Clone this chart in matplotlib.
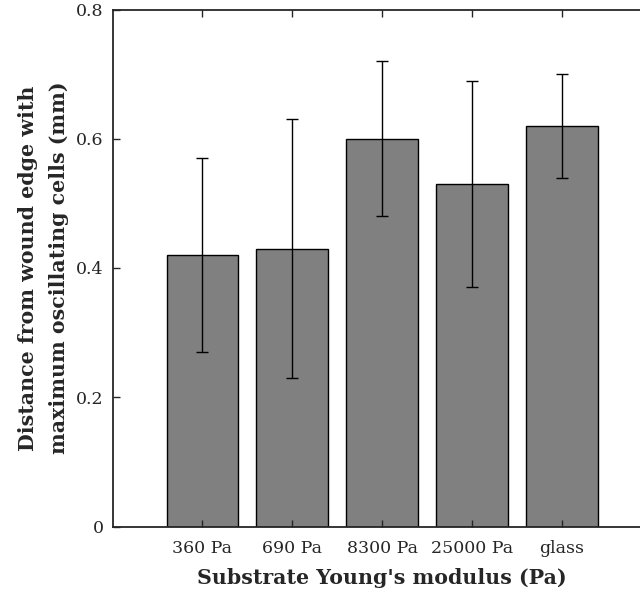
import numpy as np
import matplotlib
matplotlib.use("Agg")
import matplotlib.pyplot as plt

# data
categories = ['360 Pa', '690 Pa', '8300 Pa', '25000 Pa', 'glass']
distance = [0.42, 0.43, 0.60, 0.53, 0.62]
err = [0.15, 0.20, 0.12, 0.16, 0.08]
yticks = [0, 0.2, 0.4, 0.6, 0.8]
ytick_labels = ['0', '0.2', '0.4', '0.6', '0.8']

plt.rcParams['font.family'] = ['DejaVu Serif']

fig = plt.figure(figsize=(6.4, 5.96), dpi=100)
# axes run past the right edge (cropped like the original)
ax = fig.add_axes([112.7 / 640, 69.5 / 596, (651.5 - 112.7) / 640, 517 / 596])

x = np.arange(1, len(categories) + 1)
ax.bar(x, distance, width=0.8, color='#808080', edgecolor='black', linewidth=1.0)
ax.errorbar(x, distance, yerr=err, fmt='none', ecolor='black',
            elinewidth=1.0, capsize=4, capthick=1.0)

ax.set_xlim(0, 6)
ax.set_ylim(0, 0.8)
ax.set_xticks(x)
ax.set_xticklabels(categories, fontsize=12.5)
ax.set_yticks(yticks)
ax.set_yticklabels(ytick_labels, fontsize=12.5)
ax.tick_params(direction='in', top=True, right=True, length=5, width=1.0,
               colors='#262626', labelcolor='#262626')
ax.tick_params(axis='x', pad=10)
ax.tick_params(axis='y', pad=6.5)
for s in ax.spines.values():
    s.set_linewidth(1.3)
    s.set_color('#262626')

ax.set_xlabel("Substrate Young's modulus (Pa)", fontsize=14.8, fontweight='bold',
              color='#262626', labelpad=8)
ax.set_ylabel("Distance from wound edge with\nmaximum oscillating cells (mm)",
              fontsize=14.8, fontweight='bold', color='#262626', labelpad=5,
              linespacing=1.7)

fig.savefig('out.png', dpi=100)
